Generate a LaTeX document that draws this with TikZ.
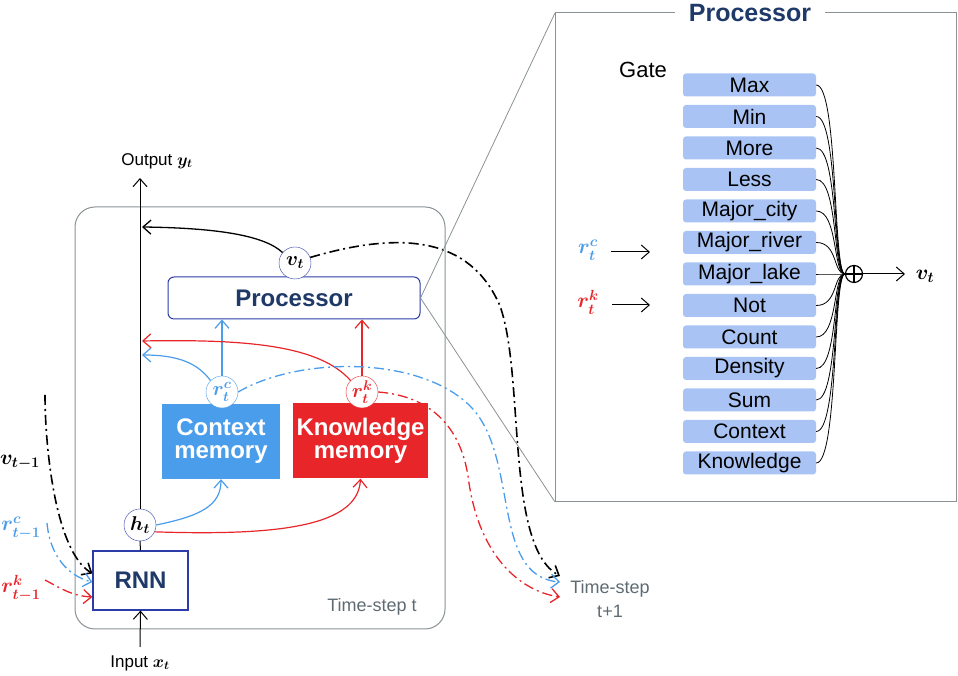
\documentclass[tikz,border=0pt]{standalone}
\usepackage{fix-cm}
\usepackage{fontspec}
\setmainfont{Liberation Sans}
\usetikzlibrary{arrows.meta}
\definecolor{navy}{HTML}{1F3A68}
\definecolor{frame}{HTML}{2B3BA8}
\definecolor{ctxblue}{HTML}{4A9DEB}
\definecolor{knred}{HTML}{E8262A}
\definecolor{gateblue}{HTML}{A9C4F4}
\definecolor{boxgray}{HTML}{8A9296}
\definecolor{txtgray}{HTML}{5E6B73}
\newcommand{\fs}[1]{\fontsize{#1}{#1}\selectfont}
\tikzset{
  tip/.style={-{Straight Barb[length=8pt,width=14pt]}},
  cell/.style={circle,draw=frame,fill=white,minimum size=32pt,inner sep=0pt,font=\fs{20}\boldmath},
  mathlbl/.style={font=\fs{21}\boldmath},
  membox/.style={minimum height=75pt,text=white,font=\bfseries\fs{24},align=center,inner sep=0pt},
  gatebox/.style={fill=gateblue,rounded corners=3pt,minimum width=133pt,minimum height=23pt,inner sep=0pt,font=\fs{21}},
  dd/.style={line width=1.3pt,dash pattern=on 10pt off 4pt on 2pt off 4pt}
}
\begin{document}
\begin{tikzpicture}[x=1pt,y=1pt]
\useasboundingbox (0,0) rectangle (958,676);
% time-step t
\node[draw=boxgray,line width=1pt,rounded corners=20pt,minimum width=370pt,minimum height=422pt] (step) at (260,258) {};
\node[text=txtgray,font=\fs{18}] (steplbl) at (372,69) {Time-step t};
\node[draw=frame,line width=1.2pt,minimum width=95pt,minimum height=59pt,text=navy,font=\bfseries\fs{24}] (rnn) at (140.5,95.5) {RNN};
\node[cell] (ht) at (140,151) {$h_t$};
\node[membox,fill=ctxblue,minimum width=118pt] (ctx) at (221,234.5) {Context\\[-1pt]memory};
\node[membox,fill=knred,minimum width=135pt] (kn) at (360.5,235) {Knowledge\\[-1pt]memory};
\node[cell,draw=ctxblue,text=ctxblue] (rc) at (222,284) {$r^c_t$};
\node[cell,draw=knred,text=knred] (rk) at (362,284) {$r^k_t$};
\node[draw=frame,line width=1pt,fill=white,rounded corners=6pt,minimum width=252pt,minimum height=42pt,text=navy,font=\bfseries\fs{24}] (proc) at (294,378) {Processor};
\node[cell] (vt) at (295,413) {$v_t$};
\node[font=\fs{17}] (outlbl) at (157,515) {Output {\boldmath$y_t$}};
\node[font=\fs{17}] (inlbl) at (140,13) {Input {\boldmath$x_t$}};
\coordinate (out) at (140,498);
\coordinate (in) at (140,29);
\coordinate (vin) at (142,449);
\coordinate (kin) at (142,335);
\coordinate (cin) at (142,321);
\draw[line width=1pt] (rnn.north) -- (ht.south);
\draw[line width=1pt,tip] (ht.north) -- (out);
\draw[line width=1pt,tip] (in) -- (rnn.south);
\draw[line width=1.3pt,tip] (vt.140) .. controls (265,440) and (220,448) .. (vin);
\draw[ctxblue,line width=1.2pt,tip] (rc.north) -- (proc.south -| rc);
\draw[knred,line width=1.2pt,tip] (rk.north) -- (proc.south -| rk);
\draw[ctxblue,line width=1.2pt,tip] (rc.135) .. controls (198,312) and (180,321) .. (cin);
\draw[knred,line width=1.2pt,tip] (rk.135) .. controls (320,330) and (250,337) .. (kin);
\draw[ctxblue,line width=1.2pt,tip] (ht.east) .. controls (200,160) and (221,170) .. (ctx.south);
\draw[knred,line width=1.2pt,tip] (ht.-25) .. controls (280,140) and (358,150) .. (kn.south);
% previous time-step
\node[mathlbl] (vprev) at (20,214) {$v_{t-1}$};
\node[mathlbl,text=ctxblue] (rcprev) at (21,148) {$r^c_{t-1}$};
\node[mathlbl,text=knred] (rkprev) at (21,88) {$r^k_{t-1}$};
\coordinate (vs) at (45,281);
\coordinate (rcs) at (47,153);
\coordinate (rks) at (45,96);
\draw[dd,line width=1.6pt,tip] (vs) .. controls (45,230) and (55,125) .. ([yshift=7pt]rnn.west);
\draw[dd,ctxblue,tip] (rcs) .. controls (50,120) and (68,100) .. ([yshift=-1.5pt]rnn.west);
\draw[dd,knred,tip] (rks) .. controls (60,88) and (72,80) .. ([yshift=-16.5pt]rnn.west);
% next time-step
\node[text=txtgray,font=\fs{18},align=center,inner sep=0pt] (nextlbl) at (610,77) {Time-step\\[6pt]t+1};
\coordinate (vnext) at (560,100);
\coordinate (cnext) at (560,94);
\coordinate (knext) at (560,79);
\draw[dd,line width=1.6pt,tip] (vt.20) .. controls (400,445) and (470,440) .. (500,370) .. controls (525,300) and (505,130) .. (vnext);
\draw[dd,ctxblue,tip] (rc.east) .. controls (300,320) and (420,320) .. (470,270) .. controls (520,220) and (490,100) .. (cnext);
\draw[dd,knred,tip] (rk.east) .. controls (430,280) and (460,250) .. (468,200) .. controls (478,120) and (520,85) .. (knext);
% processor panel
\draw[boxgray,line width=1pt] (555,174) rectangle (956,663);
\draw[boxgray,line width=0.8pt] (proc.east) -- (555,663);
\draw[boxgray,line width=0.8pt] (proc.east) -- (555,174);
\node[fill=white,inner xsep=14pt,text=navy,font=\bfseries\fs{25}] (ptitle) at (750,663) {Processor};
\node[font=\fs{22}] (gatelbl) at (643,606) {Gate};
\node[circle,draw,line width=1.2pt,minimum size=17pt,inner sep=0pt] (op) at (854,402) {};
\draw[line width=1.2pt] (op.north) -- (op.south) (op.west) -- (op.east);
\foreach \name [count=\i from 0] in {Max,Min,More,Less,Major\_city,Major\_river,Major\_lake,Not,Count,Density,Sum,Context,Knowledge}
  \node[gatebox] (g\i) at (749.5,{591-31.5*\i}) {\name};
\foreach \i in {0,...,12}
  \draw[line width=0.8pt] (g\i.east) .. controls +(22,0) and +(-12,0) .. (op.west);
\node[mathlbl] (vt2) at (925,400) {$v_t$};
\draw[line width=1pt,tip] (op.east) -- (905,402);
\node[mathlbl,text=ctxblue] (rc2) at (588,426) {$r^c_t$};
\node[mathlbl,text=knred] (rk2) at (588,374) {$r^k_t$};
\coordinate (rcend) at (650,424);
\coordinate (rkend) at (650,371);
\draw[line width=1pt,tip] ([xshift=10pt]rc2.east |- rcend) -- (rcend);
\draw[line width=1pt,tip] ([xshift=10pt]rk2.east |- rkend) -- (rkend);
\end{tikzpicture}
\end{document}
